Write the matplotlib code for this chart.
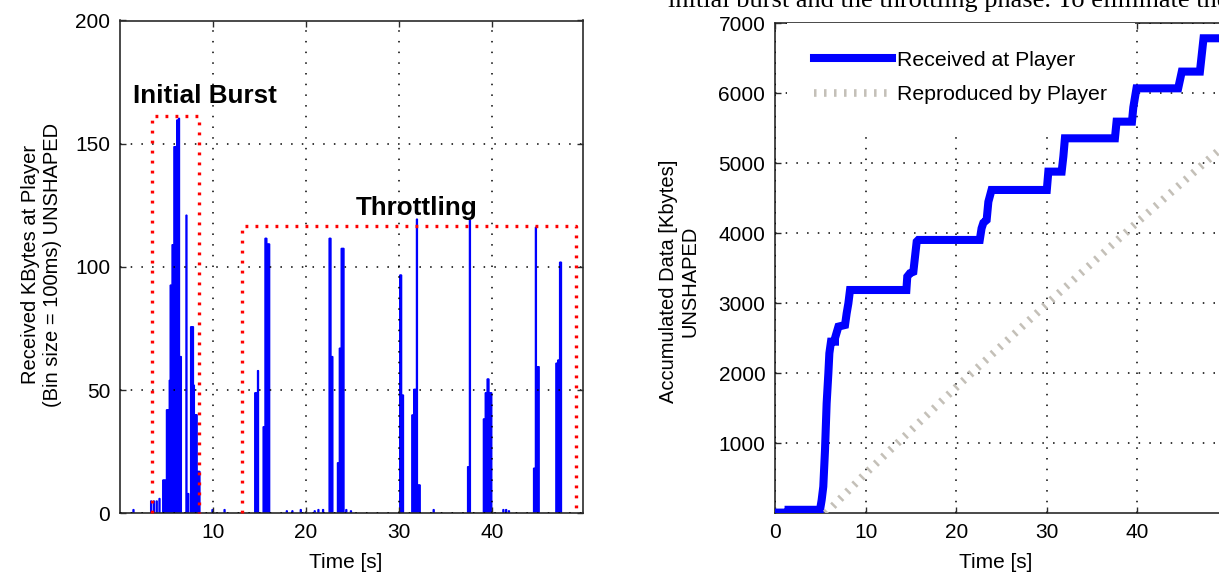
import matplotlib
matplotlib.use('Agg')
import matplotlib.pyplot as plt

plt.rcParams['font.family'] = ['Liberation Sans', 'DejaVu Sans']

# ---------------- data: left panel (100 ms bins) ----------------
bin_start = [1.4, 3.3, 3.6, 3.9, 4.2,
             4.6, 4.7, 4.8, 4.9, 5.0, 5.1, 5.2, 5.3, 5.4, 5.5, 5.6, 5.7,
             5.8, 5.9, 6.0, 6.1, 6.2, 6.3, 6.4, 6.5, 7.1, 7.2, 7.3,
             7.6, 7.7, 7.8, 7.9, 8.0, 8.1, 8.2, 8.3, 8.4, 8.5,
             9.9, 11.2,
             14.5, 14.6, 14.7, 14.8, 15.4, 15.5, 15.6, 15.7, 15.8, 15.9, 16.0,
             17.9, 18.5, 19.4, 20.9, 21.3, 21.8,
             22.5, 22.6, 22.7, 22.8, 23.4, 23.5, 23.6, 23.7, 23.8, 23.9, 24.0,
             24.3, 24.8,
             30.1, 30.2, 30.3, 30.4,
             31.4, 31.5, 31.6, 31.7, 31.8, 31.9, 32.0, 32.1, 32.2,
             33.7,
             37.4, 37.5, 37.6,
             39.1, 39.2, 39.3, 39.4, 39.5, 39.6, 39.7, 39.8, 39.9,
             41.2, 41.5, 41.8,
             44.5, 44.6, 44.7, 44.8, 44.9, 45.0,
             46.9, 47.0, 47.1, 47.2, 47.3, 47.4]
kbytes = [1.5, 5, 5, 5, 6,
          13.5, 13.5, 13.5, 13.5, 42, 42, 42, 54, 92.6, 92.6, 109, 109,
          148.8, 148.8, 148.8, 159.6, 159.6, 160.3, 63.6, 63.6, 121, 8, 8,
          75.7, 75.7, 75.7, 52, 40, 40, 40, 17, 17, 17,
          1.5, 1.5,
          48.9, 48.9, 48.9, 57.9, 35.1, 35.1, 111.6, 111.6, 109.3, 109.3, 109.3,
          1, 1, 1.5, 1, 1.5, 1.5,
          111.6, 111.6, 63.6, 63.6, 20.5, 20.5, 67, 67, 107.5, 107.5, 107.5,
          1.5, 1,
          96.7, 96.7, 48, 48,
          39.9, 39.9, 50.3, 50.3, 50.3, 119.4, 11.5, 11.5, 11.5,
          1.5,
          18.9, 18.9, 119,
          38.3, 38.3, 48.9, 48.9, 54.5, 54.5, 48.9, 48.9, 48.9,
          1.5, 1.5, 1,
          18.3, 18.3, 116.1, 59.5, 59.5, 59.5,
          60.9, 60.9, 62.2, 62.2, 101.9, 101.9]

burst_box = [3.4, 8.55, 161.3]       # t_start, t_end, top
throttle_box = [13.1, 49.1, 116.4]

# ---------------- data: right panel ----------------
recv_t = [0, 1.5, 1.5, 4.97, 5.15, 5.33, 5.52, 5.70, 5.89, 6.0, 6.18, 6.62,
          6.62, 7.0, 7.73, 7.91, 8.1, 8.28, 14.5, 14.6, 14.9, 15.27, 15.64,
          15.82, 22.6, 22.8, 23.0, 23.36, 23.55, 23.9, 30.0, 30.17, 31.64,
          31.83, 32.0, 37.52, 37.7, 39.4, 39.55, 39.9, 44.5, 44.9, 46.9,
          47.3, 50]
recv_kb = [10, 10, 50, 50, 190, 381, 905, 1571, 2000, 2286, 2452, 2452,
           2500, 2667, 2690, 2857, 3000, 3190, 3190, 3381, 3430, 3450, 3881,
           3905, 3905, 4071, 4150, 4190, 4450, 4619, 4619, 4881, 4881,
           5100, 5357, 5357, 5595, 5595, 5800, 6071, 6071, 6310, 6310,
           6786, 6786]
play_t = [5.6, 10, 20, 30, 40, 50]
play_kb = [0, 570, 1800, 2990, 4160, 5300]

# ---------------- figure ----------------
W, H = 1219, 577
fig = plt.figure(figsize=(W / 100, H / 100), dpi=100)

grid_kw = dict(color='black', linestyle=(0, (1, 6)), linewidth=1.1)


def style(ax):
    for s in ax.spines.values():
        s.set_color('#2a2a2a')
        s.set_linewidth(1.2)
    ax.tick_params(direction='in', length=4, width=1, top=True, right=True,
                   labelsize=15, pad=7, color='#2a2a2a')
    ax.grid(True, **grid_kw)
    ax.set_axisbelow(False)


# left panel
ax1 = fig.add_axes([120 / W, (H - 513.3) / H, 463.3 / W, 492.8 / H])
ax1.bar(bin_start, kbytes, width=0.1, align='edge', color='#0000ff',
        edgecolor='#0000ff', linewidth=1.0, zorder=2, snap=False)
for t0, t1, top in (burst_box, throttle_box):
    ax1.plot([t0, t0, t1, t1], [0, top, top, 0], color='red', lw=2.4,
             linestyle=(0, (0.85, 2.15)), dash_capstyle='butt', zorder=4,
             clip_on=False)
ax1.set_xlim(0, 49.85)
ax1.set_ylim(0, 200)
ax1.set_xticks([10, 20, 30, 40])
ax1.set_yticks([0, 50, 100, 150, 200])
style(ax1)
ax1.text(1.4, 169.4, 'Initial Burst', fontweight='bold', fontsize=18.7,
         va='center', ha='left', zorder=5)
ax1.text(25.4, 124, 'Throttling', fontweight='bold', fontsize=18.7,
         va='center', ha='left', zorder=5)
ax1.set_xlabel('Time [s]', fontsize=15)
ax1.xaxis.set_label_coords(0.488, -0.081)
ax1.set_ylabel('Received KBytes at Player\n(Bin size = 100ms) UNSHAPED',
               fontsize=14.5)
ax1.yaxis.set_label_coords(-0.125, 0.504)

# right panel
ax2 = fig.add_axes([775 / W, (H - 513.3) / H, 453 / W, 490 / H])
ax2.plot(recv_t, recv_kb, color='#0000ff', lw=5.8, solid_joinstyle='miter',
         zorder=3, label='Received at Player')
ax2.plot(play_t, play_kb, color='#c4c0b8', lw=5.5,
         linestyle=(0, (0.33, 0.98)), dash_capstyle='butt', zorder=3,
         label='Reproduced by Player')
ax2.set_xlim(0, 50)
ax2.set_ylim(0, 7000)
ax2.set_xticks([0, 10, 20, 30, 40])
ax2.set_yticks([1000, 2000, 3000, 4000, 5000, 6000, 7000])
style(ax2)
ax2.set_xlabel('Time [s]', fontsize=15)
ax2.xaxis.set_label_coords(0.487, -0.082)
ax2.set_ylabel('Accumulated Data [Kbytes]\nUNSHAPED', fontsize=14.5)
ax2.yaxis.set_label_coords(-0.166, 0.474)
leg = ax2.legend(loc='upper left', bbox_to_anchor=(0.026, 1.0),
                 borderaxespad=0, frameon=True, fancybox=False,
                 facecolor='white', edgecolor='white', framealpha=1,
                 fontsize=15.3, handlelength=3.66, handletextpad=0.25,
                 labelspacing=0.72, borderpad=1.29)
leg.get_frame().set_linewidth(0)
leg.set_zorder(2.7)   # hides the grid but not the data lines

# clipped line of the surrounding page text
fig.text(668 / W, 1 - 7 / H,
         'initial burst and the throttling phase. To eliminate the',
         fontfamily=['Liberation Serif', 'DejaVu Serif'], fontsize=19,
         va='baseline', ha='left')

fig.savefig('out.png', dpi=100)
